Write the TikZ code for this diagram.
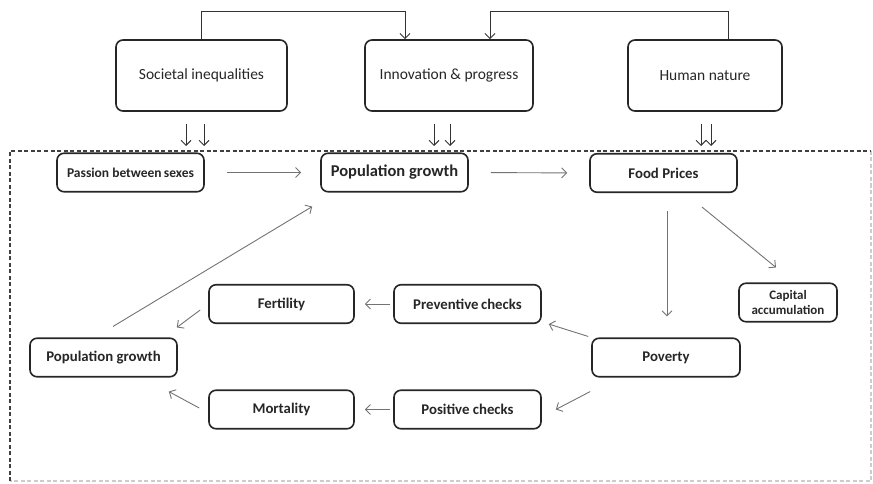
\documentclass[tikz,border=0pt]{standalone}
\usepackage{fontspec}
\setmainfont{Carlito}
\usetikzlibrary{arrows.meta}
\begin{document}
\begin{tikzpicture}[x=1pt,y=-1pt,
  box/.style={draw=black!85, line width=1.6pt, rounded corners=7pt, inner sep=1pt, align=center, text=black!85},
  topbox/.style={box, minimum height=71pt, font=\fontsize{15.5}{18}\selectfont},
  lowbox/.style={box, minimum width=147pt, minimum height=38.5pt, font=\bfseries\fontsize{14.8}{17}\selectfont},
  toparr/.style={draw=black!80, line width=1pt, -{Straight Barb[length=5pt,width=10pt]}},
  arr/.style={draw=black!55, line width=0.9pt, -{Straight Barb[length=5pt,width=10pt]}},
  frame/.style={line width=1.5pt, dash pattern=on 4pt off 2.5pt}
]
\useasboundingbox (0,0) rectangle (873,484);

% top row
\node[topbox, minimum width=171pt] (soc) at (201.5,75.5) {Societal inequalities};
\node[topbox, minimum width=168pt] (inn) at (449,75.5) {Innovation \& progress};
\node[topbox, minimum width=154pt] (hum) at (705,75.5) {Human nature};

\coordinate (c1) at (405,12);
\coordinate (c2) at (490,12);
\draw[toparr] (soc.north) |- (c1) -- (c1 |- inn.north);
\draw[toparr] ([xshift=23pt]hum.north) |- (c2) -- (c2 |- inn.north);

% down arrows
\foreach \x/\n in {186/a,204/b,434/c,450/d,701/e,711/f}{
  \coordinate (s\n) at (\x,124);
  \coordinate (e\n) at (\x,146);
  \draw[toparr] (s\n) -- (e\n);
}

% dashed frame
\coordinate (f1) at (10,151);
\coordinate (f2) at (871,151);
\coordinate (f3) at (871,481);
\coordinate (f4) at (10,481);
\draw[frame, draw=black!20] (f2) -- (f3) -- (f4);
\draw[frame, draw=black!75] (f4) -- (f1) -- (f2);

% lower nodes
\node[lowbox, font=\bfseries\fontsize{13.5}{16}\selectfont] (pas) at (130.5,172.5) {Passion between\,sexes};
\node[lowbox, font=\bfseries\fontsize{16.5}{19}\selectfont] (pg1) at (394.5,172.5) {Population growth};
\node[lowbox] (food) at (663.5,173) {Food Prices};
\node[lowbox, minimum width=98pt, font=\bfseries\fontsize{13}{15.5}\selectfont] (cap) at (788,302.5) {Capital\\accumulation};
\node[lowbox, minimum width=148pt] (pov) at (666,357.5) {Poverty};
\node[lowbox] (prev) at (467.5,304) {Preventive\,checks};
\node[lowbox, minimum width=145pt] (fert) at (281.5,304) {Fertility};
\node[lowbox] (pos) at (467.5,409.5) {Positive checks};
\node[lowbox, minimum width=145pt] (mort) at (281.5,409.5) {Mortality};
\node[lowbox] (pg2) at (103.5,357.5) {Population growth};

% connectors
\draw[arr, shorten <=22pt, shorten >=19pt] (pas.east) -- (pg1.west);
\draw[arr, shorten <=22pt, shorten >=22pt] (pg1.east) -- (food.west);
\draw[arr, shorten <=18pt, shorten >=21pt] ([xshift=3.5pt]food.south) -- ([xshift=3.5pt]food.south |- pov.north);
\draw[arr] ([shift={(38.5pt,-14pt)}]food.south) -- ([shift={(-12pt,15pt)}]cap.north);
\draw[arr] ([shift={(-3pt,1pt)}]pov.north west) -- ([shift={(7pt,0pt)}]prev.south east);
\draw[arr] ([shift={(-1pt,-14pt)}]pov.south west) -- ([xshift=14pt]pos.east);
\draw[arr, shorten <=3pt, shorten >=10pt] (prev.west) -- (fert.east);
\draw[arr, shorten <=3pt, shorten >=10pt] (pos.west) -- (mort.east);
\draw[arr] ([shift={(-8pt,-6pt)}]fert.west) -- ([shift={(-1pt,10pt)}]pg2.north east);
\draw[arr] ([shift={(-9pt,1.5pt)}]mort.west) -- ([shift={(-9pt,-14pt)}]pg2.south east);
\draw[arr] ([shift={(9.5pt,11pt)}]pg2.north) -- ([shift={(-8pt,-14pt)}]pg1.south west);
\end{tikzpicture}
\end{document}
